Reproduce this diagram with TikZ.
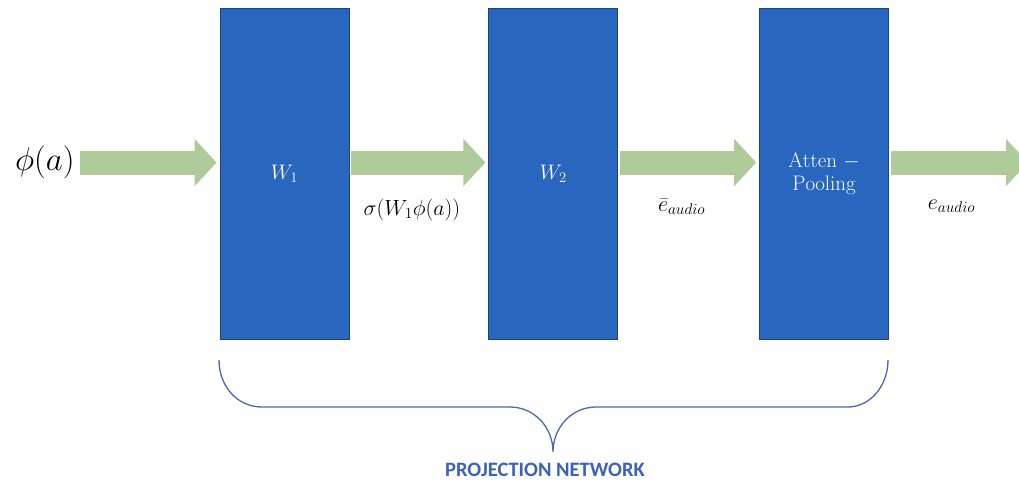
\documentclass[tikz,border=0pt]{standalone}
\usepackage{fix-cm}
\usepackage{fontspec}
\newfontfamily\capfont{Carlito}
\usepackage{tikz}
\usetikzlibrary{arrows.meta,positioning}
\definecolor{boxblue}{HTML}{2866C0}
\definecolor{boxedge}{HTML}{1F4278}
\definecolor{flowgreen}{HTML}{AFCB99}
\definecolor{bracecol}{HTML}{4A68B0}
\definecolor{capblue}{HTML}{3A62B8}

\begin{document}
\begin{tikzpicture}[x=1pt,y=-1pt,
box/.style={draw=boxedge,line width=0.8pt,fill=boxblue,text=white,align=center,minimum width=129pt,minimum height=331pt,inner sep=0pt,font=\fontsize{21}{23}\selectfont},
flow/.style={flowgreen,line width=24pt,-{Triangle[length=22pt,width=46pt]},shorten <=2pt,shorten >=3pt},
lbl/.style={font=\fontsize{22}{25}\selectfont},
brace/.style={draw=bracecol,line width=1.3pt},
node distance=139pt
]
\useasboundingbox (0,0) rectangle (1019,483);
\clip (0,0) rectangle (1019,483);
\node[box] (w1) at (284.5,173.5) {$W_1$};
\node[box,right=of w1] (w2) {$W_2$};
\node[box,right=141pt of w2] (pool) {$\mathrm{Atten}\ -$\\$\mathrm{Pooling}$};
\node[lbl,anchor=east,font=\fontsize{33}{36}\selectfont] (phi) at (78,162.5) {$\phi(a)$};
\coordinate (out) at (1028,162.5);
\draw[flow] (phi.east) -- (phi.east -| w1.west);
\draw[flow] (w1.east |- phi.east) -- node[lbl,pos=0.45,below=21pt,text=black]{$\sigma(W_1\phi(a))$} (w2.west |- phi.east);
\draw[flow] (w2.east |- phi.east) -- node[lbl,pos=0.45,below=21pt,text=black]{$\bar{e}_{audio}$} (pool.west |- phi.east);
\draw[flow,shorten >=0pt] (pool.east |- phi.east) -- node[lbl,pos=0.45,below=22pt,text=black]{$e_{audio}$} (out);
\coordinate (bl) at (219,360);
\coordinate (br) at (888,360);
\coordinate (tip) at (553,452);
\draw[brace] (bl) .. controls (219,386) and (237,407) .. (262,407) -- (510,407)
  .. controls (534,407) and (553,427) .. (tip)
  .. controls (553,427) and (572,407) .. (596,407) -- (848,407)
  .. controls (870,407) and (888,386) .. (br);
\node[text=capblue,font=\capfont\bfseries\fontsize{20.5}{23}\selectfont] (cap) at (545,469.5) {PROJECTION NETWORK};
\end{tikzpicture}
\end{document}
